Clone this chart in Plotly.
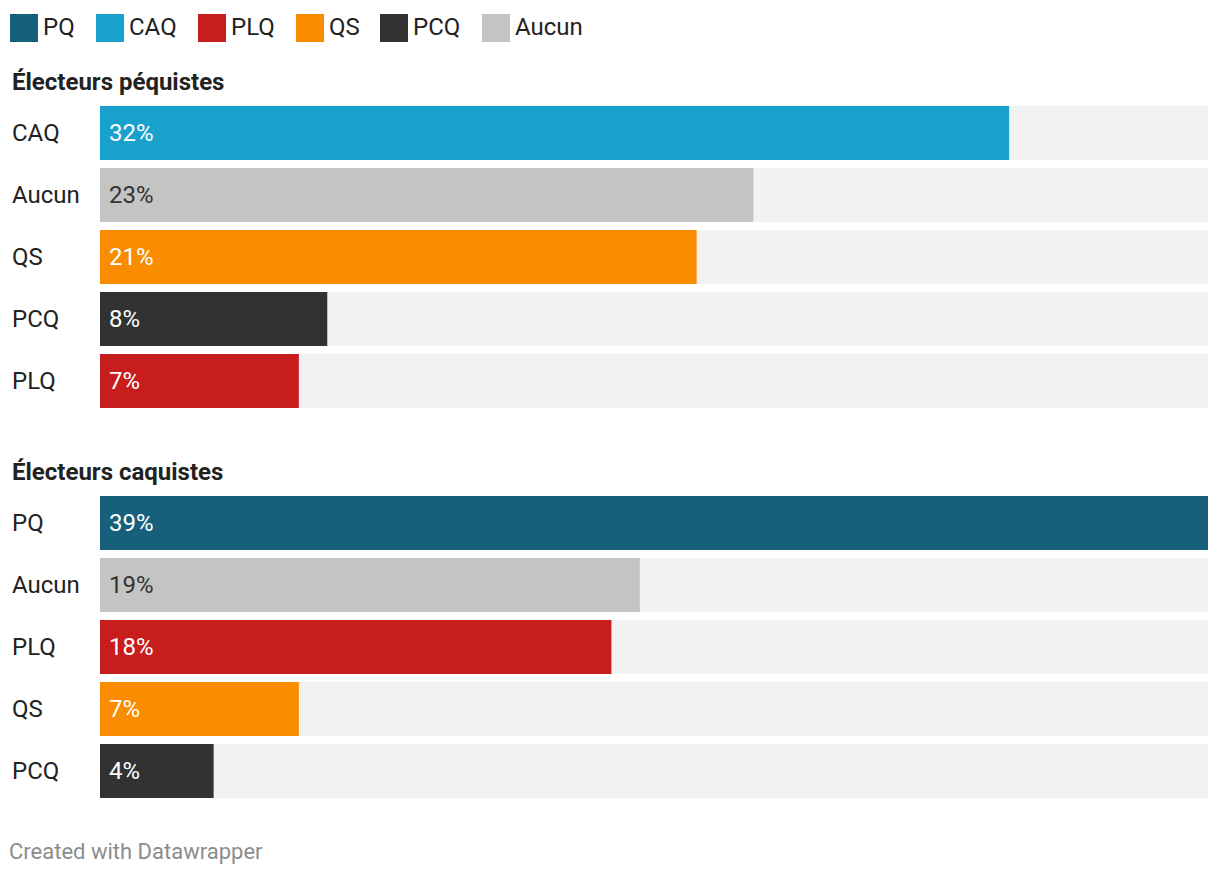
import plotly.graph_objects as go

# the page body has an 8px margin, so the figure is drawn 8px in from the window corner
OFF = 8
W, H = 1220 - 2 * OFF, 876 - 2 * OFF

# legend / party colours
parties = ["PQ", "CAQ", "PLQ", "QS", "PCQ", "Aucun"]
party_colors = ["#17607c", "#18a1cd", "#c71e1d", "#fa8c00", "#323232", "#c4c4c4"]

# first panel
pq_title = "Électeurs péquistes"
pq_labels = ["CAQ", "Aucun", "QS", "PCQ", "PLQ"]
pq_values = [32, 23, 21, 8, 7]

# second panel
caq_title = "Électeurs caquistes"
caq_labels = ["PQ", "Aucun", "PLQ", "QS", "PCQ"]
caq_values = [39, 19, 18, 7, 4]

footer = "Created with Datawrapper"

FONT = "Roboto, 'Open Sans', sans-serif"
color_of = dict(zip(parties, party_colors))
full = max(pq_values + caq_values)


# window pixel -> paper coordinates
def px(x):
    return (x - OFF) / W


def py(y):
    return 1 - (y - OFF) / H


fig = go.Figure()
annotations = []
shapes = []

panels = [
    (pq_title, pq_labels, pq_values, "y", 82),
    (caq_title, caq_labels, caq_values, "y2", 472),
]

for title, labels, values, yax, title_y in panels:
    # light grey track behind each bar
    fig.add_trace(go.Bar(
        x=[full] * len(labels), y=labels, orientation="h", yaxis=yax,
        marker=dict(color="#f2f2f2", line=dict(width=0)),
        hoverinfo="skip", showlegend=False,
    ))
    fig.add_trace(go.Bar(
        x=values, y=labels, orientation="h", yaxis=yax,
        marker=dict(color=[color_of[l] for l in labels], line=dict(width=0)),
        showlegend=False,
        hovertemplate="%{y}: %{x}%<extra></extra>",
    ))
    annotations.append(dict(
        text="<b>" + title + "</b>", xref="paper", yref="paper",
        x=px(10), y=py(title_y), xanchor="left", yanchor="middle",
        showarrow=False, font=dict(size=24, color="#222222", family=FONT),
    ))
    for lab, val in zip(labels, values):
        annotations.append(dict(
            text=lab, xref="paper", yref=yax, x=px(10), y=lab,
            xanchor="left", yanchor="middle", showarrow=False,
            font=dict(size=24, color="#222222", family=FONT),
        ))
        annotations.append(dict(
            text=f"{val}%", xref="x", yref=yax, x=0, y=lab, xshift=7,
            xanchor="left", yanchor="middle", showarrow=False,
            font=dict(size=24, color="#333333" if lab == "Aucun" else "#ffffff", family=FONT),
        ))

# legend drawn as swatches + text
legend_x = [10, 96, 198, 296, 380, 482]
for name, col, lx in zip(parties, party_colors, legend_x):
    shapes.append(dict(
        type="rect", xref="paper", yref="paper",
        x0=px(lx), x1=px(lx + 28), y0=py(42), y1=py(14),
        fillcolor=col, line=dict(width=0),
    ))
    annotations.append(dict(
        text=name, xref="paper", yref="paper", x=px(lx + 31), y=py(27),
        xanchor="left", yanchor="middle", showarrow=False,
        font=dict(size=24, color="#222222", family=FONT),
    ))

annotations.append(dict(
    text=footer, xref="paper", yref="paper", x=px(7), y=py(851),
    xanchor="left", yanchor="middle", showarrow=False,
    font=dict(size=22, color="#8c8c8c", family=FONT),
))

fig.update_layout(
    width=W, height=H,
    margin=dict(l=0, r=0, t=0, b=0),
    paper_bgcolor="white", plot_bgcolor="white",
    barmode="overlay", bargap=8 / 62,
    font=dict(family=FONT),
    xaxis=dict(domain=[px(100), px(1208)], range=[0, full], visible=False, fixedrange=True),
    yaxis=dict(domain=[py(412), py(102)], type="category", categoryorder="array",
               categoryarray=pq_labels, autorange="reversed", visible=False, fixedrange=True),
    yaxis2=dict(domain=[py(802), py(492)], type="category", categoryorder="array",
                categoryarray=caq_labels, autorange="reversed", visible=False,
                anchor="x", fixedrange=True),
    annotations=annotations,
    shapes=shapes,
    showlegend=False,
)

fig.write_html("out.html")
